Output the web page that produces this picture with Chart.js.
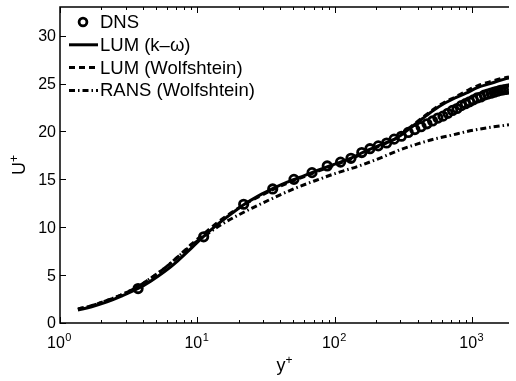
<!DOCTYPE html>
<html>
<head>
<meta charset="utf-8">
<script src="https://cdn.jsdelivr.net/npm/chart.js@4.4.1/dist/chart.umd.min.js"></script>
<style>
  html, body { margin: 0; padding: 0; background: #fff; }
</style>
</head>
<body>
<canvas id="perfil" width="516" height="381"></canvas>
<script>
// Datos (perfil de velocidad U+ vs y+)
const dnsY = [3.7, 11.1, 21.7, 35.3, 50.4, 68.2, 88, 110, 131, 157, 180, 207, 238, 270,
  305, 342, 382, 424, 468, 514, 562, 612, 664, 718, 774, 832, 892, 954, 1018, 1084,
  1152, 1222, 1294, 1368, 1444, 1522, 1602, 1684, 1768, 1854];
const dnsU = [3.6, 9.0, 12.4, 14.0, 15.0, 15.7, 16.4, 16.8, 17.2, 17.8, 18.2, 18.5, 18.8, 19.2,
  19.5, 19.9, 20.2, 20.5, 20.8, 21.1, 21.4, 21.6, 21.9, 22.2, 22.4, 22.7, 22.9, 23.1, 23.3, 23.5,
  23.6, 23.8, 23.9, 24.0, 24.1, 24.2, 24.3, 24.35, 24.4, 24.45];

const lumY = [1.35, 1.7, 2.2, 2.8, 3.7, 4.6, 5.8, 7.2, 9, 11, 14, 18, 22, 28, 35, 45, 60, 80,
  100, 130, 170, 220, 280, 350, 430, 520, 620, 750, 900, 1100, 1350, 1600, 1850];
const lumKwU = [1.35, 1.7, 2.2, 2.8, 3.6, 4.4, 5.4, 6.5, 7.8, 9.0, 10.3, 11.5, 12.4, 13.3, 14.0,
  14.7, 15.4, 16.1, 16.6, 17.2, 18.0, 18.65, 19.3, 20.3, 21.3, 22.2, 22.9, 23.5, 24.0, 24.6,
  25.0, 25.35, 25.6];
const lumWolfU = [1.45, 1.8, 2.35, 2.95, 3.8, 4.7, 5.75, 6.9, 8.2, 9.25, 10.5, 11.6, 12.4, 13.2,
  13.9, 14.6, 15.3, 16.0, 16.5, 17.1, 17.9, 18.6, 19.3, 20.4, 21.4, 22.3, 23.0, 23.6, 24.2, 24.8,
  25.2, 25.5, 25.7];

const ransY = [1.35, 1.7, 2.2, 2.8, 3.7, 4.6, 5.8, 7.2, 9, 11, 15, 20, 25, 35, 52, 70, 100, 150,
  220, 300, 400, 525, 700, 913, 1300, 1850];
const ransU = [1.45, 1.8, 2.35, 2.95, 3.8, 4.7, 5.75, 6.9, 8.1, 9.0, 10.3, 11.3, 12.0, 13.0, 14.1,
  14.8, 15.6, 16.4, 17.3, 18.1, 18.7, 19.2, 19.6, 20.0, 20.4, 20.7];

const xTicks = [1, 10, 100, 1000];
const yTicks = [0, 5, 10, 15, 20, 25, 30];

const juntar = (xs, ys) => xs.map((v, i) => ({ x: v, y: ys[i] }));
const FUENTE = '"Liberation Sans", Arial, sans-serif';

// Marco, ticks hacia adentro, etiquetas tipo MATLAB y leyenda sin caja
const marcoMatlab = {
  id: 'marcoMatlab',
  afterDraw(chart) {
    const { ctx, chartArea: a, scales: { x, y } } = chart;
    ctx.save();
    ctx.strokeStyle = '#000';
    ctx.fillStyle = '#000';

    // ticks del eje x (mayores y menores), abajo y arriba
    ctx.lineWidth = 1;
    ctx.beginPath();
    for (const d of xTicks) {
      for (let k = 1; k < 10; k++) {
        const v = d * k;
        if (v < x.min || v > x.max) continue;
        const px = Math.round(x.getPixelForValue(v)) + 0.5;
        const len = k === 1 ? 6 : 3;
        ctx.moveTo(px, a.bottom); ctx.lineTo(px, a.bottom - len);
        ctx.moveTo(px, a.top); ctx.lineTo(px, a.top + len);
      }
    }
    for (const v of yTicks) {
      const py = Math.round(y.getPixelForValue(v)) + 0.5;
      ctx.moveTo(a.left, py); ctx.lineTo(a.left + 6, py);
    }
    ctx.stroke();

    // marco
    ctx.lineWidth = 1.5;
    ctx.beginPath();
    ctx.moveTo(a.right, a.top); ctx.lineTo(a.left, a.top);
    ctx.lineTo(a.left, a.bottom); ctx.lineTo(a.right, a.bottom);
    ctx.stroke();

    // etiquetas eje y
    ctx.font = '16px ' + FUENTE;
    ctx.textAlign = 'right';
    ctx.textBaseline = 'middle';
    for (const v of yTicks) {
      ctx.fillText(String(v), a.left - 4, y.getPixelForValue(v) + 1);
    }

    // etiquetas eje x: 10^n
    ctx.textAlign = 'left';
    ctx.textBaseline = 'alphabetic';
    for (const v of xTicks) {
      const exp = String(Math.round(Math.log10(v)));
      ctx.font = '16px ' + FUENTE;
      const wBase = ctx.measureText('10').width;
      ctx.font = '11px ' + FUENTE;
      const wExp = ctx.measureText(exp).width;
      const left = x.getPixelForValue(v) - (wBase + wExp) / 2 - 1;
      ctx.font = '16px ' + FUENTE;
      ctx.fillText('10', left, 348);
      ctx.font = '11px ' + FUENTE;
      ctx.fillText(exp, left + wBase + 0.5, 341);
    }

    // título eje x: y+
    ctx.font = '18px ' + FUENTE;
    const wy = ctx.measureText('y').width;
    ctx.font = '12px ' + FUENTE;
    const wp = ctx.measureText('+').width;
    const cx = (a.left + a.right) / 2;
    let lx = cx - (wy + wp) / 2;
    ctx.font = '18px ' + FUENTE;
    ctx.fillText('y', lx, 371);
    ctx.font = '12px ' + FUENTE;
    ctx.fillText('+', lx + wy, 364);

    // título eje y: U+
    ctx.save();
    ctx.translate(25, (a.top + a.bottom) / 2);
    ctx.rotate(-Math.PI / 2);
    ctx.font = '18px ' + FUENTE;
    const wU = ctx.measureText('U').width;
    lx = -(wU + wp) / 2;
    ctx.fillText('U', lx, 0);
    ctx.font = '12px ' + FUENTE;
    ctx.fillText('+', lx + wU, -7);
    ctx.restore();

    // leyenda
    ctx.font = '18.5px ' + FUENTE;
    ctx.textBaseline = 'middle';
    chart.data.datasets.forEach((ds, i) => {
      const ly = 22 + i * 22.8;
      if (ds.showLine === false) {
        ctx.lineWidth = ds.borderWidth;
        ctx.setLineDash([]);
        ctx.beginPath();
        ctx.arc(83, ly, ds.pointRadius - 0.3, 0, Math.PI * 2);
        ctx.stroke();
      } else {
        ctx.lineWidth = ds.borderWidth;
        ctx.setLineDash(ds.borderDash || []);
        ctx.beginPath();
        ctx.moveTo(69, ly); ctx.lineTo(98, ly);
        ctx.stroke();
        ctx.setLineDash([]);
      }
      ctx.fillText(ds.label, 100, ly + 1);
    });
    ctx.restore();
  }
};

new Chart(document.getElementById('perfil'), {
  type: 'scatter',
  data: {
    datasets: [
      {
        label: 'DNS',
        data: juntar(dnsY, dnsU),
        showLine: false,
        pointStyle: 'circle',
        pointRadius: 4.2,
        borderWidth: 2.8,
        borderColor: '#000',
        backgroundColor: 'rgba(0,0,0,0)'
      },
      {
        label: 'LUM (k\u2013\u03c9)',
        data: juntar(lumY, lumKwU),
        showLine: true,
        pointRadius: 0,
        borderWidth: 3,
        borderColor: '#000',
        cubicInterpolationMode: 'monotone'
      },
      {
        label: 'LUM (Wolfshtein)',
        data: juntar(lumY, lumWolfU),
        showLine: true,
        pointRadius: 0,
        borderWidth: 3,
        borderDash: [6, 4],
        borderColor: '#000',
        cubicInterpolationMode: 'monotone'
      },
      {
        label: 'RANS (Wolfshtein)',
        data: juntar(ransY, ransU),
        showLine: true,
        pointRadius: 0,
        borderWidth: 3,
        borderDash: [6, 3, 1.5, 3],
        borderColor: '#000',
        cubicInterpolationMode: 'monotone'
      }
    ]
  },
  options: {
    responsive: false,
    animation: false,
    layout: { padding: { left: 60, top: 4, right: 0, bottom: 58 } },
    plugins: { legend: { display: false }, tooltip: { enabled: false } },
    scales: {
      x: { type: 'logarithmic', min: 1, max: 1850, display: false },
      y: { type: 'linear', min: 0, max: 33, display: false }
    }
  },
  plugins: [marcoMatlab]
});
</script>
</body>
</html>
